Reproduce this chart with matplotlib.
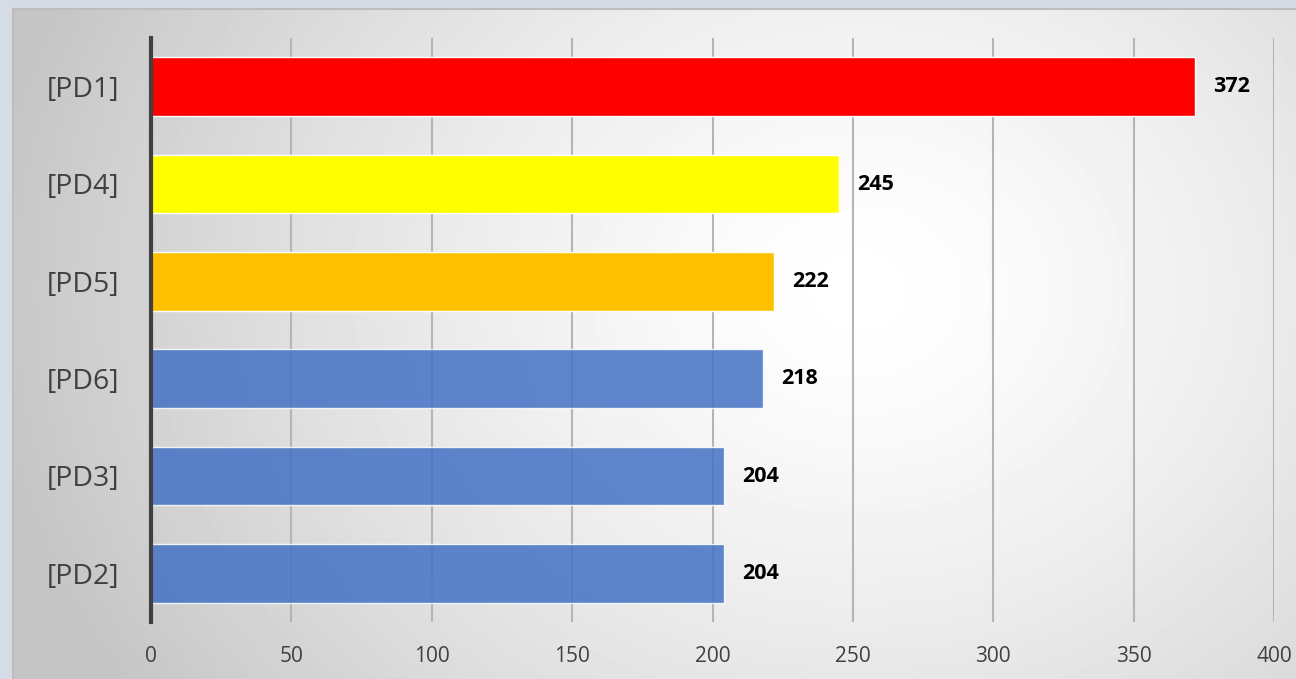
import numpy as np
import matplotlib.pyplot as plt

categories = ["[PD1]", "[PD4]", "[PD5]", "[PD6]", "[PD3]", "[PD2]"]
values = [372, 245, 222, 218, 204, 204]
colors = ["#FF0000", "#FFFF00", "#FFC000", "#4472C4", "#4472C4", "#4472C4"]
alphas = [1, 1, 1, 0.85, 0.85, 0.85]
xticks = [0, 50, 100, 150, 200, 250, 300, 350, 400]

W, H = 1296, 679
fig = plt.figure(figsize=(W / 100, H / 100), dpi=100)
fig.patch.set_facecolor("#D6DCE5")

# chart area with radial gradient
x0, y0 = 13 / W, 0
bg = fig.add_axes([x0, y0, 1 - x0, 1 - 9 / H], zorder=0)
gx, gy = np.meshgrid(np.linspace(0, 1, 400), np.linspace(0, 1, 220))
d = np.sqrt(((gx - 0.66) * 1.6) ** 2 + ((gy - 0.42) * 1.0) ** 2)
shade = np.clip(1 - 0.2 * d ** 1.4, 0.77, 1)
bg.imshow(shade, cmap="gray", vmin=0, vmax=1, aspect="auto",
          extent=[0, 1, 0, 1], origin="upper", interpolation="bilinear")
bg.set_xlim(0, 1)
bg.set_ylim(0, 1)
for s in ["right", "bottom"]:
    bg.spines[s].set_visible(False)
for s in ["top", "left"]:
    bg.spines[s].set_color("#BDBDBD")
    bg.spines[s].set_linewidth(1.5)
bg.set_xticks([])
bg.set_yticks([])

ax = fig.add_axes([151 / W, 1 - 622 / H, (1274 - 151) / W, (622 - 38) / H], zorder=1)
ax.patch.set_visible(False)

ypos = np.arange(len(categories))
bars = ax.barh(ypos, values, height=0.6, color=colors, zorder=3,
               edgecolor=(1, 1, 1, 0.5), linewidth=1)
for b, a in zip(bars, alphas):
    b.set_alpha(a)
for y, v in zip(ypos, values):
    ax.annotate(str(v), (v, y), xytext=(13, 0), textcoords="offset points",
                va="center", ha="left", fontsize=15.5, fontweight="bold",
                color="black", family="Open Sans")

ax.set_ylim(len(categories) - 0.5, -0.5)
ax.set_xlim(0, 400)
ax.set_xticks(xticks)
ax.set_yticks(ypos)
ax.set_yticklabels(categories, fontsize=20.5, color="#404040", family="Open Sans")
ax.tick_params(axis="x", length=0, pad=17, labelsize=15, labelcolor="#404040")
ax.tick_params(axis="y", length=0, pad=23)
for lab in ax.get_xticklabels():
    lab.set_family("Open Sans")
ax.grid(axis="x", color="#B5B5B5", linewidth=1.5, zorder=2)
ax.set_axisbelow(False)
for s in ["top", "right", "bottom"]:
    ax.spines[s].set_visible(False)
ax.spines["left"].set_color("#404040")
ax.spines["left"].set_linewidth(3)
ax.spines["left"].set_zorder(5)

fig.savefig("out.png", dpi=100)
